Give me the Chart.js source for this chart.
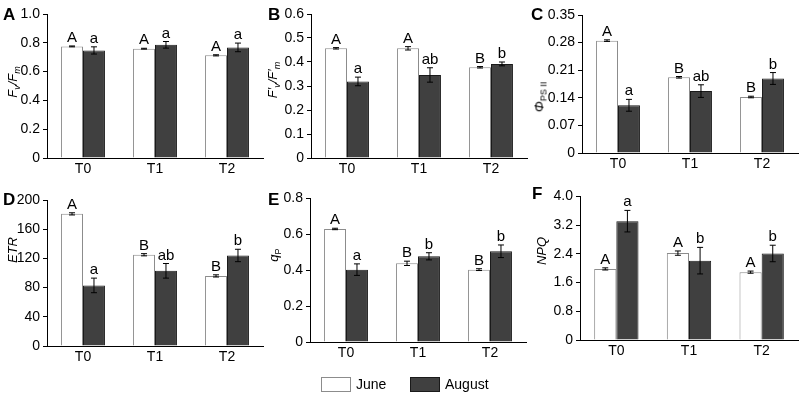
<!DOCTYPE html>
<html>
<head>
<meta charset="utf-8">
<script src="https://cdn.jsdelivr.net/npm/chart.js@4.4.1/dist/chart.umd.min.js"></script>
<style>
  body { margin: 0; background: #fff; width: 800px; height: 395px; position: relative; overflow: hidden;
         font-family: "Liberation Sans", Arial, sans-serif; color: #000; }
  canvas { position: absolute; }
  .tag { position: absolute; font-weight: bold; font-size: 17px; line-height: 17px; }
  .ytitle { position: absolute; font-size: 13px; font-style: italic; white-space: nowrap;
            transform: translate(-50%, -50%) rotate(-90deg); line-height: 13px; }
  .ytitle sub { font-size: 9px; vertical-align: -3px; line-height: 0; }
  .ytitle .up { font-style: normal; }
  .legend { position: absolute; top: 377px; left: 321px; font-size: 14px; }
  .legend span.box { position: absolute; width: 28px; height: 13px; top: 0; }
  .legend span.txt { position: absolute; top: -1px; white-space: nowrap; }
</style>
</head>
<body>
<canvas id="cA" width="270" height="185" style="left:0;top:0"></canvas>
<canvas id="cB" width="270" height="185" style="left:265px;top:0"></canvas>
<canvas id="cC" width="270" height="185" style="left:530px;top:0"></canvas>
<canvas id="cD" width="270" height="180" style="left:0;top:185px"></canvas>
<canvas id="cE" width="270" height="180" style="left:265px;top:185px"></canvas>
<canvas id="cF" width="270" height="180" style="left:530px;top:185px"></canvas>

<div class="tag" style="left:3px;top:6px">A</div>
<div class="tag" style="left:268px;top:6px">B</div>
<div class="tag" style="left:531px;top:6px">C</div>
<div class="tag" style="left:3px;top:191px">D</div>
<div class="tag" style="left:268px;top:191px">E</div>
<div class="tag" style="left:532px;top:185px">F</div>

<div class="ytitle" style="left:12px;top:82px">F<sub>v</sub>/F<sub>m</sub></div>
<div class="ytitle" style="left:272px;top:80px">F′<sub>v</sub>/F′<sub>m</sub></div>
<div class="ytitle" style="left:539px;top:97px">Φ<sub class="up">PS II</sub></div>
<div class="ytitle" style="left:12px;top:250px">ETR</div>
<div class="ytitle" style="left:273px;top:255px">q<sub class="up">P</sub></div>
<div class="ytitle" style="left:541px;top:251px">NPQ</div>

<div class="legend">
  <span class="box" style="left:0;background:#fff;border:1px solid #8c8c8c"></span>
  <span class="txt" style="left:35px">June</span>
  <span class="box" style="left:89px;background:#404040;border:1px solid #1a1a1a"></span>
  <span class="txt" style="left:124px">August</span>
</div>

<script>
// ─── Data ─────────────────────────────────────────────────────────────────────

const groups = ["T0", "T1", "T2"];
const seriesNames = ["June", "August"];

// A: Fv/Fm
const fvfmJune = [0.775, 0.759, 0.713];
const fvfmJuneErr = [0.003, 0.003, 0.004];
const fvfmAug = [0.747, 0.786, 0.768];
const fvfmAugErr = [0.025, 0.023, 0.03];
const fvfmJuneSig = ["A", "A", "A"];
const fvfmAugSig = ["a", "a", "a"];
const fvfmTicks = ["0", "0.2", "0.4", "0.6", "0.8", "1.0"];

// B: F'v/F'm
const fvfmLightJune = [0.457, 0.457, 0.378];
const fvfmLightJuneErr = [0.003, 0.007, 0.003];
const fvfmLightAug = [0.319, 0.346, 0.392];
const fvfmLightAugErr = [0.018, 0.03, 0.008];
const fvfmLightJuneSig = ["A", "A", "B"];
const fvfmLightAugSig = ["a", "ab", "b"];
const fvfmLightTicks = ["0", "0.1", "0.2", "0.3", "0.4", "0.5", "0.6"];

// C: ΦPSII
const phiJune = [0.285, 0.192, 0.142];
const phiJuneErr = [0.002, 0.002, 0.002];
const phiAug = [0.121, 0.157, 0.189];
const phiAugErr = [0.015, 0.016, 0.015];
const phiJuneSig = ["A", "B", "B"];
const phiAugSig = ["a", "ab", "b"];
const phiTicks = ["0", "0.07", "0.14", "0.21", "0.28", "0.35"];

// D: ETR
const etrJune = [181, 125, 96];
const etrJuneErr = [1.5, 1.5, 1.5];
const etrAug = [83, 103, 124];
const etrAugErr = [10, 10, 8.5];
const etrJuneSig = ["A", "B", "B"];
const etrAugSig = ["a", "ab", "b"];
const etrTicks = ["0", "40", "80", "120", "160", "200"];

// E: qP
const qpJune = [0.628, 0.437, 0.402];
const qpJuneErr = [0.004, 0.012, 0.005];
const qpAug = [0.402, 0.476, 0.504];
const qpAugErr = [0.032, 0.02, 0.035];
const qpJuneSig = ["A", "B", "B"];
const qpAugSig = ["a", "b", "b"];
const qpTicks = ["0", "0.2", "0.4", "0.6", "0.8"];

// F: NPQ
const npqJune = [1.98, 2.42, 1.89];
const npqJuneErr = [0.03, 0.06, 0.03];
const npqAug = [3.31, 2.21, 2.41];
const npqAugErr = [0.3, 0.37, 0.23];
const npqJuneSig = ["A", "A", "A"];
const npqAugSig = ["a", "b", "b"];
const npqTicks = ["0", "0.8", "1.6", "2.4", "3.2", "4.0"];

// ─── Error bars + significance letters ───────────────────────────────────────

const errorBarPlugin = {
  id: "errorBars",
  afterDatasetsDraw(chart) {
    const ctx = chart.ctx;
    const y = chart.scales.y;
    ctx.save();
    chart.data.datasets.forEach((ds, i) => {
      const meta = chart.getDatasetMeta(i);
      meta.data.forEach((bar, j) => {
        const v = ds.data[j];
        const e = ds.errors[j];
        const top = y.getPixelForValue(v + e);
        const bot = y.getPixelForValue(v - e);
        ctx.strokeStyle = "#000";
        ctx.lineWidth = 1;
        ctx.beginPath();
        ctx.moveTo(bar.x, top);
        ctx.lineTo(bar.x, bot);
        ctx.moveTo(bar.x - 3, top);
        ctx.lineTo(bar.x + 3, top);
        ctx.moveTo(bar.x - 3, bot);
        ctx.lineTo(bar.x + 3, bot);
        ctx.stroke();
        ctx.fillStyle = "#000";
        ctx.font = '15px "Liberation Sans", Arial, sans-serif';
        ctx.textAlign = "center";
        ctx.textBaseline = "alphabetic";
        ctx.fillText(ds.letters[j], bar.x, Math.min(top, y.getPixelForValue(v)) - 4);
      });
    });
    ctx.restore();
  },
};

// ─── Panel builder ────────────────────────────────────────────────────────────

function renderPanel(id, june, juneErr, juneSig, aug, augErr, augSig, ticks, box) {
  const canvas = document.getElementById(id);
  const tickValues = ticks.map((t) => parseFloat(t));
  return new Chart(canvas, {
    type: "bar",
    data: {
      labels: groups,
      datasets: [
        {
          label: seriesNames[0],
          data: june,
          errors: juneErr,
          letters: juneSig,
          backgroundColor: "#ffffff",
          borderColor: "#8c8c8c",
          borderWidth: 1,
        },
        {
          label: seriesNames[1],
          data: aug,
          errors: augErr,
          letters: augSig,
          backgroundColor: "#404040",
          borderColor: "#1a1a1a",
          borderWidth: 1,
        },
      ],
    },
    options: {
      responsive: false,
      animation: false,
      events: [],
      categoryPercentage: 0.61,
      barPercentage: 1.0,
      layout: { padding: { top: box.top, right: box.right, left: 0, bottom: 0 } },
      plugins: { legend: { display: false }, tooltip: { enabled: false } },
      scales: {
        x: {
          grid: { display: false, drawTicks: false },
          border: { display: true, color: "#000", width: 1 },
          ticks: { color: "#000", padding: 3, font: { size: 14, family: '"Liberation Sans", Arial' } },
          afterFit: (s) => { s.height = box.xh; },
        },
        y: {
          min: tickValues[0],
          max: tickValues[tickValues.length - 1],
          afterBuildTicks: (s) => { s.ticks = tickValues.map((v) => ({ value: v })); },
          ticks: {
            color: "#000",
            padding: 3,
            font: { size: 14, family: '"Liberation Sans", Arial' },
            callback: (v, i) => ticks[i],
          },
          grid: { drawOnChartArea: false, tickLength: 4, color: "#000" },
          border: { display: true, color: "#000", width: 1 },
          afterFit: (s) => { s.width = box.left; },
        },
      },
    },
    plugins: [errorBarPlugin],
  });
}

renderPanel("cA", fvfmJune, fvfmJuneErr, fvfmJuneSig, fvfmAug, fvfmAugErr, fvfmAugSig, fvfmTicks,
  { left: 47, top: 14, right: 7, xh: 27 });
renderPanel("cB", fvfmLightJune, fvfmLightJuneErr, fvfmLightJuneSig, fvfmLightAug, fvfmLightAugErr, fvfmLightAugSig, fvfmLightTicks,
  { left: 46, top: 14, right: 8, xh: 27 });
renderPanel("cC", phiJune, phiJuneErr, phiJuneSig, phiAug, phiAugErr, phiAugSig, phiTicks,
  { left: 52, top: 15, right: 2, xh: 32 });
renderPanel("cD", etrJune, etrJuneErr, etrJuneSig, etrAug, etrAugErr, etrAugSig, etrTicks,
  { left: 47, top: 15, right: 7, xh: 19 });
renderPanel("cE", qpJune, qpJuneErr, qpJuneSig, qpAug, qpAugErr, qpAugSig, qpTicks,
  { left: 45, top: 13, right: 9, xh: 23 });
renderPanel("cF", npqJune, npqJuneErr, npqJuneSig, npqAug, npqAugErr, npqAugSig, npqTicks,
  { left: 50, top: 10, right: 2, xh: 25 });
</script>
</body>
</html>
